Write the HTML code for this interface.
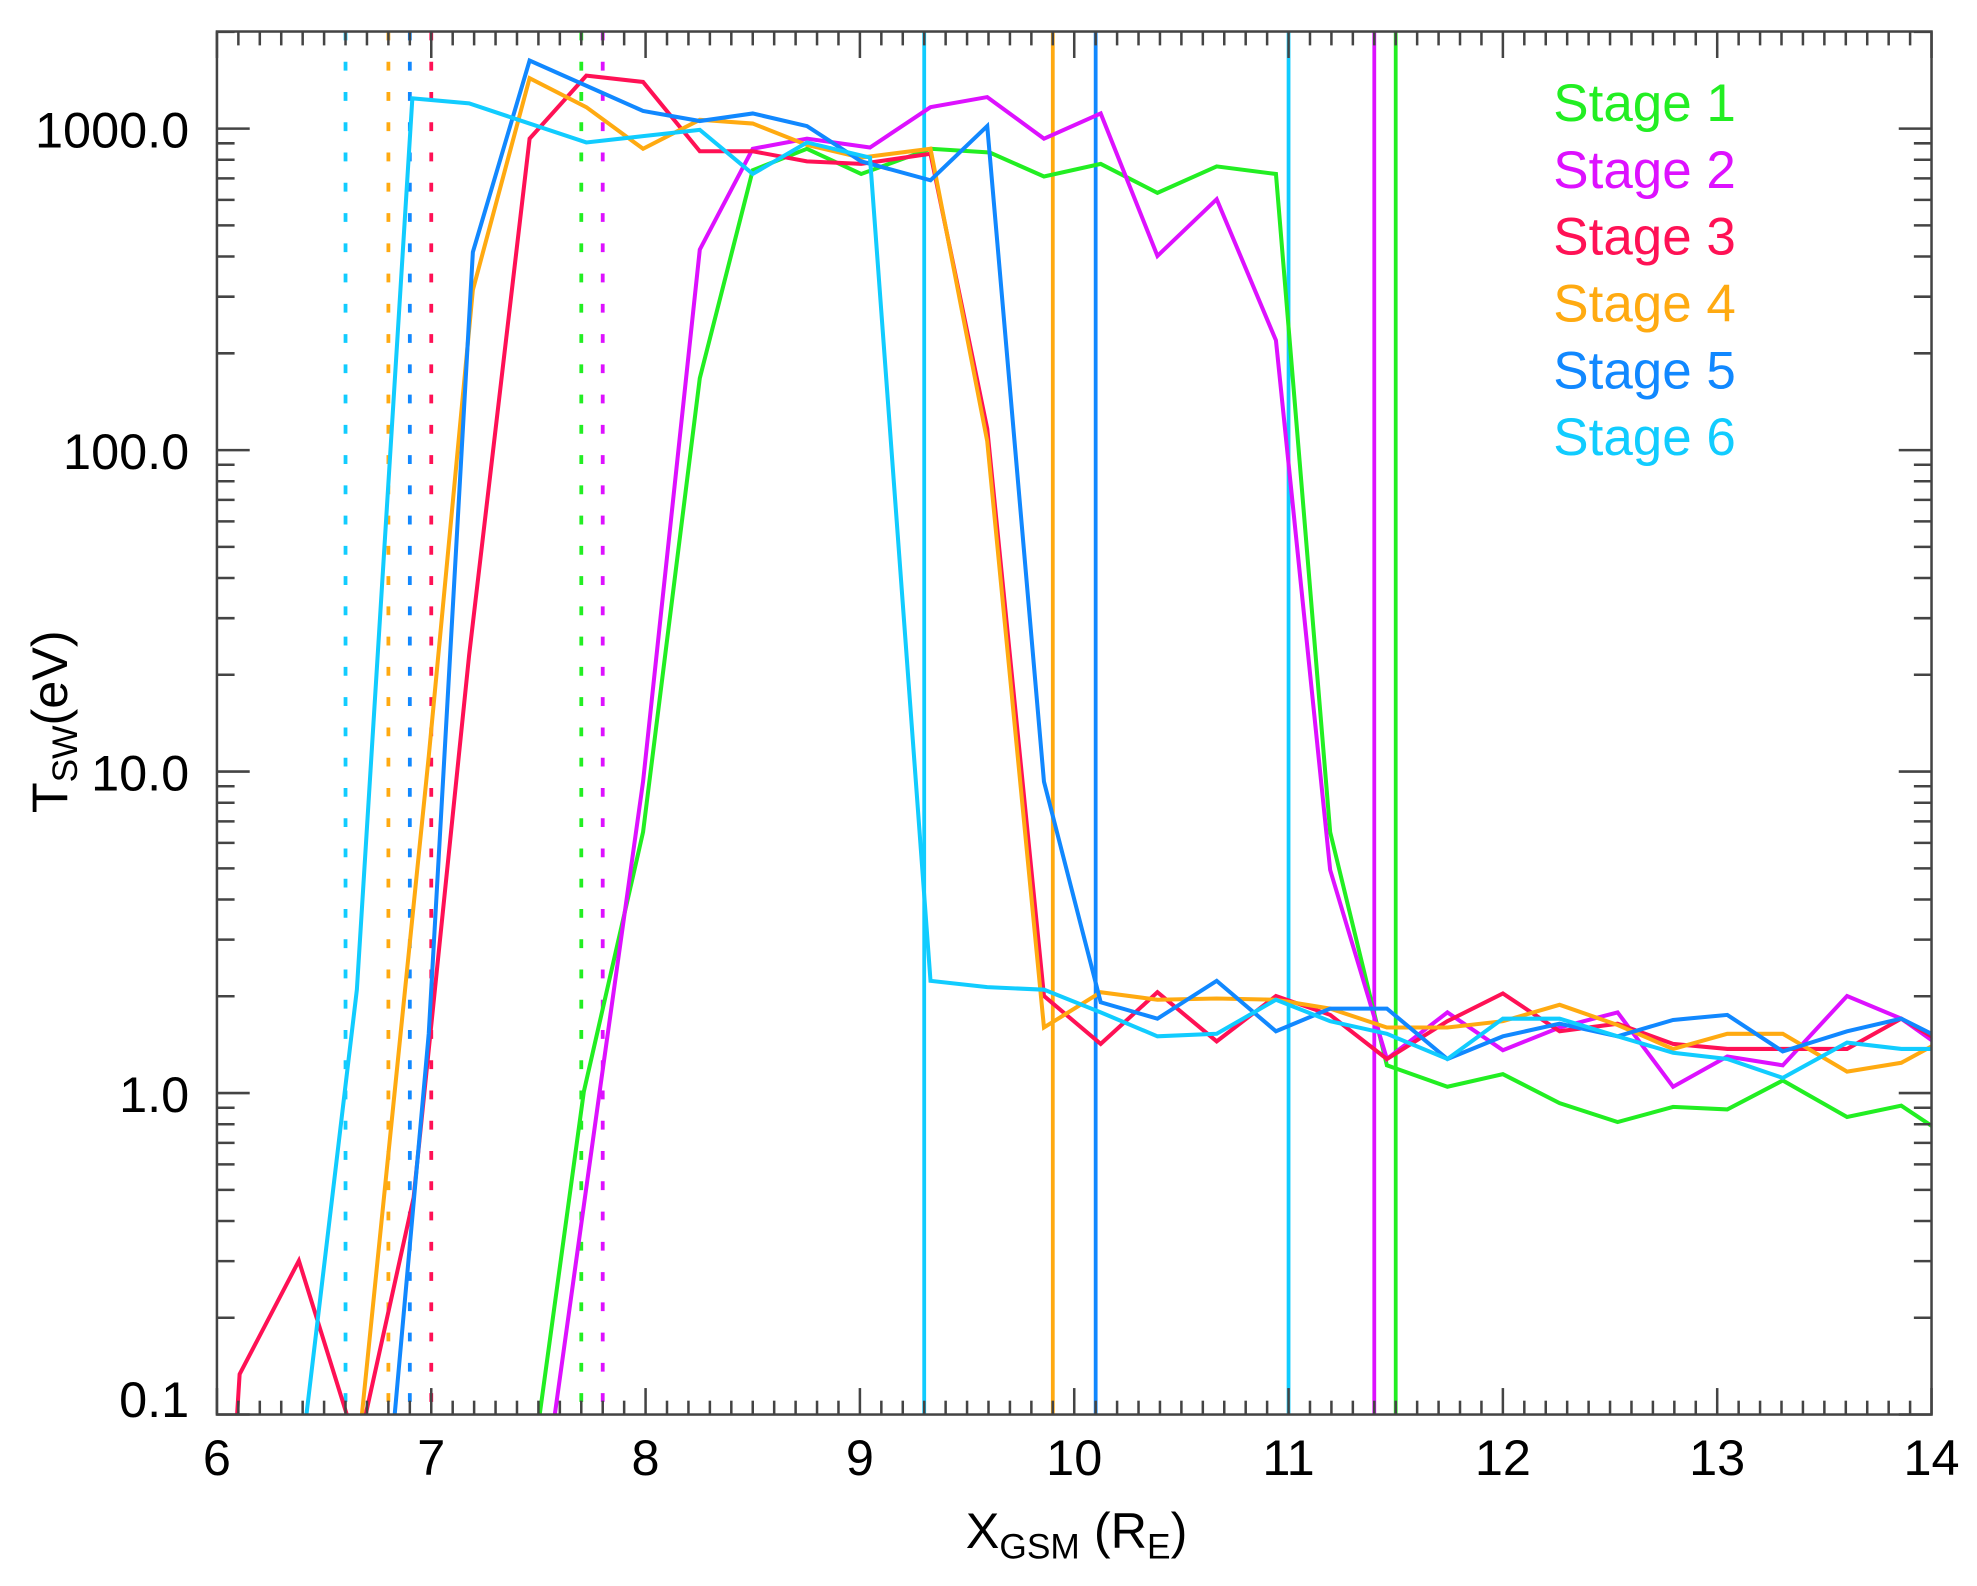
<!DOCTYPE html>
<html><head><meta charset="utf-8"><style>
html,body{margin:0;padding:0;background:#fff;}
svg{display:block;}
text{font-family:"Liberation Sans",Arial,sans-serif;fill:#000;}
</style></head><body>
<svg id="s" width="1977" height="1586" viewBox="0 0 1568 1258" xmlns="http://www.w3.org/2000/svg">
<g id="g"></g>
<g font-size="42">
<text x="1232" y="96" style="fill:#22ee22">Stage 1</text>
<text x="1232" y="149" style="fill:#dd11ff">Stage 2</text>
<text x="1232" y="202" style="fill:#ff1155">Stage 3</text>
<text x="1232" y="255" style="fill:#ffaa11">Stage 4</text>
<text x="1232" y="308" style="fill:#1188ff">Stage 5</text>
<text x="1232" y="361" style="fill:#11ccff">Stage 6</text>
</g>
<g font-size="40" text-anchor="end">
<text x="150" y="117">1000.0</text>
<text x="150" y="372">100.0</text>
<text x="150" y="627">10.0</text>
<text x="150" y="882">1.0</text>
<text x="150" y="1124">0.1</text>
</g>
<g font-size="40" text-anchor="middle">
<text x="172" y="1170">6</text><text x="342" y="1170">7</text><text x="512" y="1170">8</text>
<text x="682" y="1170">9</text><text x="852" y="1170">10</text><text x="1022" y="1170">11</text>
<text x="1192" y="1170">12</text><text x="1362" y="1170">13</text><text x="1532" y="1170">14</text>
</g>
<text x="766" y="1228" font-size="40">X<tspan font-size="28" dy="8">GSM</tspan><tspan dy="-8"> (R</tspan><tspan font-size="28" dy="8">E</tspan><tspan dy="-8">)</tspan></text>
<text transform="translate(53,645) rotate(-90)" font-size="40">T<tspan font-size="28" dy="8">SW</tspan><tspan dy="-8">(eV)</tspan></text>
</svg>
<script>
var g=document.getElementById('g'),NS='http://www.w3.org/2000/svg';
function el(t,a){var e=document.createElementNS(NS,t);for(var k in a)e.setAttribute(k,a[k]);g.appendChild(e);return e;}
var L=172,R=1532,T=25,B=1122;
function ln(x1,y1,x2,y2,c,w,d){var a={x1:x1,y1:y1,x2:x2,y2:y2,stroke:c,'stroke-width':w};if(d)a['stroke-dasharray']=d;el('line',a);}
[[274,'#11ccff'],[308,'#ffaa11'],[325,'#1188ff'],[342,'#ff1155'],[461,'#22ee22'],[478,'#dd11ff']].forEach(function(v){ln(v[0],T,v[0],B,v[1],3,'7 17');});
[[733,'#11ccff'],[835,'#ffaa11'],[869,'#1188ff'],[1022,'#11ccff'],[1090,'#dd11ff'],[1107,'#22ee22']].forEach(function(v){ln(v[0],T,v[0],B,v[1],3);});
var S={
'#22ee22':[[428,1122],[463,866],[510,660],[555,300],[597,135],[640,118],[683,138],[738,118],[785,121],[828,140],[873,130],[918,153],[965,132],[1012,138],[1055,660],[1100,845],[1148,862],[1192,852],[1237,875],[1283,890],[1327,878],[1370,880],[1414,857],[1465,886],[1508,877],[1532,893]],
'#dd11ff':[[440,1122],[475,870],[510,620],[555,198],[597,118],[640,110],[690,117],[738,85],[783,77],[828,110],[873,90],[918,203],[965,158],[1012,270],[1055,690],[1100,840],[1148,803],[1192,833],[1237,815],[1283,803],[1327,862],[1370,838],[1414,845],[1465,790],[1508,808],[1532,825]],
'#ff1155':[[188,1122],[190,1090],[237,1000],[275,1122]],
'#ff1155b':[[290,1122],[328,950],[372,520],[420,110],[465,60],[510,65],[555,120],[597,120],[640,128],[683,130],[738,122],[783,340],[828,790],[873,828],[918,787],[965,826],[1012,790],[1055,805],[1100,840],[1148,810],[1192,788],[1237,818],[1283,812],[1327,828],[1370,832],[1414,832],[1465,832],[1508,808],[1532,822]],
'#ffaa11':[[287,1122],[340,600],[375,230],[420,62],[465,85],[510,118],[555,95],[597,98],[640,115],[683,125],[738,118],[783,350],[828,815],[873,787],[918,793],[965,792],[1012,793],[1055,800],[1100,815],[1148,815],[1192,810],[1237,797],[1283,813],[1327,832],[1370,820],[1414,820],[1465,850],[1508,843],[1532,830]],
'#1188ff':[[313,1122],[340,820],[375,200],[420,48],[465,68],[510,88],[555,96],[597,90],[640,100],[683,128],[738,143],[783,100],[828,620],[873,795],[918,808],[965,778],[1012,818],[1055,800],[1100,800],[1148,840],[1192,822],[1237,812],[1283,822],[1327,809],[1370,805],[1414,834],[1465,818],[1508,808],[1532,820]],
'#11ccff':[[243,1122],[283,785],[327,78],[372,82],[420,98],[465,113],[510,108],[555,103],[597,138],[640,113],[690,125],[738,778],[783,783],[828,785],[873,803],[918,822],[965,820],[1012,793],[1055,810],[1100,820],[1148,840],[1192,808],[1237,808],[1283,822],[1327,835],[1370,840],[1414,855],[1465,827],[1508,832],[1532,832]]};
for(var k in S){el('polyline',{points:S[k].map(function(p){return p.join(',')}).join(' '),fill:'none',stroke:k.slice(0,7),'stroke-width':3.2,'stroke-linejoin':'miter'});}
var ac='#444';
el('rect',{x:L,y:T,width:R-L,height:B-T,fill:'none',stroke:ac,'stroke-width':2});
for(var i=0;i<=80;i++){var x=L+i*17,len=(i%10==0)?21:11;ln(x,B,x,B-len,ac,2);ln(x,T,x,T+len,ac,2);}
var D=255;
for(var d=-1;d<4;d++){for(var m=1;m<10;m++){var v=Math.log10(m)+d;var y=867-v*D;if(y<T||y>B)continue;var len=(m==1)?26:14;ln(L,y,L+len,y,ac,2);ln(R,y,R-len,y,ac,2);}}
</script>
</body></html>
